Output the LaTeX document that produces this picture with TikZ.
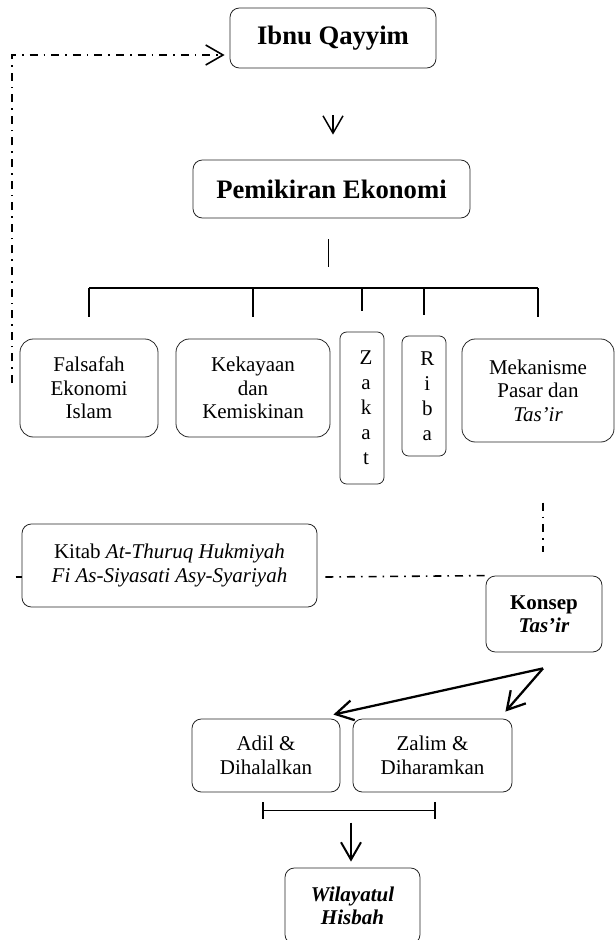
\documentclass[tikz,border=0pt]{standalone}
\usepackage{fontspec}
\setmainfont{Liberation Serif}
\usetikzlibrary{arrows.meta, calc, positioning}
\tikzset{
    baseBox/.style={rectangle, rounded corners=7pt, draw=black!85, line width=0.6pt, fill=white, inner sep=0pt, align=center, font=\fontsize{15.75}{17.6}\selectfont},
    headBox/.style={baseBox, font=\fontsize{20}{24}\selectfont\bfseries},
    letterBox/.style={baseBox, rounded corners=5pt, font=\fontsize{15.75}{18.75}\selectfont},
    branchLine/.style={line width=1.3pt},
    refLink/.style={line width=1.2pt, dash pattern=on 6pt off 4.5pt on 1.2pt off 4.5pt},
    flowArrow/.style={-{Straight Barb[length=13pt, width=15pt]}, line width=1.5pt},
    spanBar/.style={{Bar[width=12.75pt]}-{Bar[width=12.75pt]}, line width=1.2pt},
}
\newcommand{\drawDrop}[2][22]{
    \draw[branchLine] (#2.north |- bar) -- ($(#2.north)+(0,-#1)$);
}

\begin{document}
\begin{tikzpicture}[x=0.75pt, y=-0.75pt]
    \useasboundingbox (0,0) rectangle (615,940);

    \node[headBox, minimum width=154.5pt, minimum height=45pt] (ibnu) at (333,38) {Ibnu Qayyim};
    \node[headBox, minimum width=207.75pt, minimum height=43.5pt] (pemikiran) at (331.5,189) {Pemikiran Ekonomi};

    \node[baseBox, rounded corners=10pt, minimum width=103.5pt, minimum height=73.5pt] (falsafah) at (89,388) {Falsafah\\Ekonomi\\Islam};
    \node[baseBox, rounded corners=10pt, minimum width=115.5pt, minimum height=73.5pt] (kekayaan) at (253,388) {Kekayaan\\dan\\Kemiskinan};
    \node[letterBox, minimum width=33pt, minimum height=114pt] (zakat) at (362,408) {\hspace{6pt}Z\\\hspace{6pt}a\\\hspace{6pt}k\\\hspace{6pt}a\\\hspace{6pt}t};
    \node[letterBox, minimum width=33pt, minimum height=90pt] (riba) at (424,396) {\hspace{5pt}R\\\hspace{5pt}i\\\hspace{5pt}b\\\hspace{5pt}a};
    \node[baseBox, rounded corners=10pt, minimum width=114pt, minimum height=77.25pt] (mekanisme) at (538,390.5) {Mekanisme\\Pasar dan\\\textit{Tas’ir}};

    % dash-dot links sit under the boxes
    \coordinate (loopEnd) at (12,383);
    \draw[refLink, -{Straight Barb[length=13pt, width=15pt]}] (loopEnd) |- ($(ibnu.west)+(-5,17)$);

    \node[baseBox, minimum width=221.25pt, minimum height=62.25pt] (kitab) at (169.5,565.5) {Kitab \textit{At-Thuruq Hukmiyah}\\\textit{Fi As-Siyasati Asy-Syariyah}};
    \node[baseBox, minimum width=87pt, minimum height=57pt] (konsep) at (544,614) {\textbf{Konsep}\\\textbf{\textit{Tas’ir}}};

    \draw[refLink] ($(kitab.west)+(-6,11.5)$) -- ($(kitab.west)+(0,11.5)$);
    \draw[refLink] ($(kitab.east)+(8,11.5)$) -- (konsep.north west);
    \draw[refLink] ($(konsep.north)+(-1,-73)$) -- ($(konsep.north)+(-1,-24)$);

    \node[baseBox, minimum width=111pt, minimum height=54.75pt] (adil) at (266,755.5) {Adil \&\\Dihalalkan};
    \node[baseBox, minimum width=119.25pt, minimum height=54.75pt] (zalim) at (432.5,755.5) {Zalim \&\\Diharamkan};
    \node[baseBox, minimum width=101.25pt, minimum height=57pt] (wilayatul) at (352.5,906) {\textbf{\textit{Wilayatul}}\\\textbf{\textit{Hisbah}}};

    % tree under Pemikiran Ekonomi
    \draw[flowArrow, line width=1.1pt, shorten <=35pt, shorten >=18.75pt] (ibnu.south) -- (ibnu.south |- pemikiran.north);
    \draw[branchLine] ($(pemikiran.south)+(-3,21)$) -- ++(0,28);
    \coordinate (bar) at (328,288);
    \draw[branchLine] (falsafah.north |- bar) -- (mekanisme.north |- bar);
    \drawDrop{falsafah}
    \drawDrop{kekayaan}
    \drawDrop[21]{zakat}
    \drawDrop[21]{riba}
    \drawDrop{mekanisme}

    % Konsep Tas'ir splits in two
    \coordinate (fork) at ($(konsep.south)+(-1,16)$);
    \draw[flowArrow, line width=1.7pt] (fork) -- ($(adil.north east)+(-7,-4)$);
    \draw[flowArrow, line width=1.7pt] (fork) -- ($(zalim.north east)+(-7,-7)$);

    \draw[spanBar] ($(adil.south)+(-4,18)$) -- ($(zalim.south)+(3.5,18)$);
    \draw[flowArrow] ($(wilayatul.north)+(-1.5,-45)$) -- ($(wilayatul.north)+(-1.5,-6)$);

\end{tikzpicture}
\end{document}
